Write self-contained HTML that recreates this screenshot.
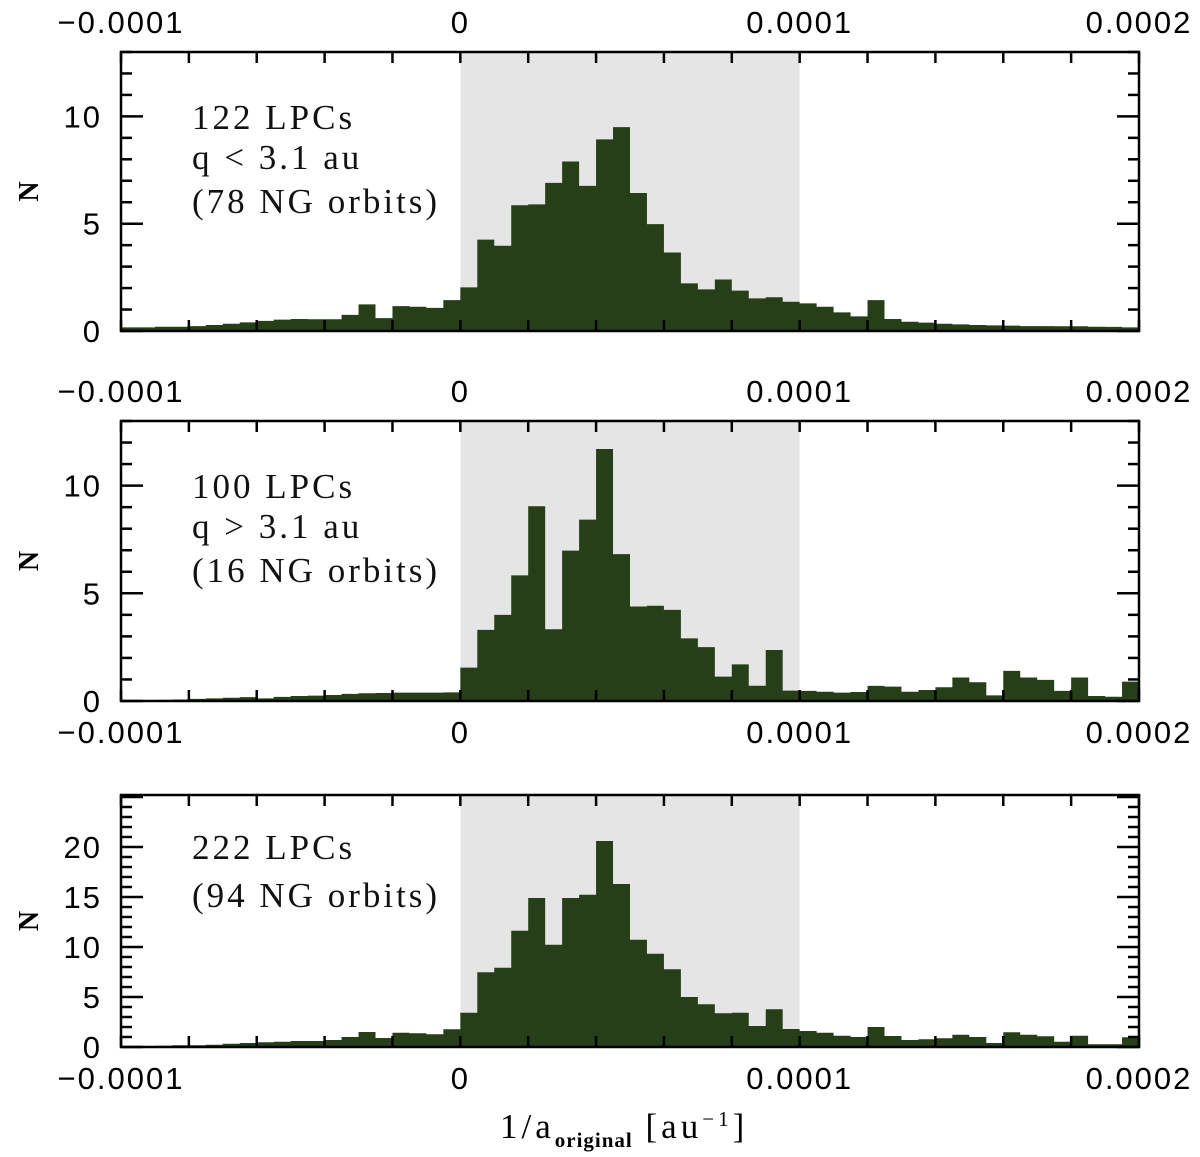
<!DOCTYPE html>
<html><head><meta charset="utf-8"><style>
body{margin:0;background:#fff}
svg{display:block}
.tk{font-family:"Liberation Sans",sans-serif;font-size:31px;fill:#000;letter-spacing:2px}
.ann{font-family:"Liberation Serif",serif;font-size:35px;fill:#111;letter-spacing:3px}
</style></head><body>
<svg id="chart" width="1200" height="1157" viewBox="0 0 1200 1157" xmlns="http://www.w3.org/2000/svg"></svg>
<script>
const xTickValues=[-0.0001,0,0.0001,0.0002];
const xTickLabels=["\u22120.0001","0","0.0001","0.0002"];
const binStart=-0.0001, binWidth=0.000005;
const countsShortQ=[0.17,0.17,0.2,0.2,0.23,0.28,0.34,0.4,0.47,0.53,0.56,0.55,0.55,0.75,1.24,0.6,1.16,1.13,1.08,1.44,
2.03,4.26,3.97,5.86,5.9,6.9,7.9,6.76,8.93,9.5,6.43,4.98,3.66,2.22,1.94,2.4,1.88,1.52,1.57,1.36,
1.29,1.13,0.87,0.68,1.44,0.56,0.43,0.39,0.34,0.31,0.28,0.26,0.25,0.23,0.23,0.22,0.22,0.2,0.19,0.17];
const countsLongQ=[0.02,0.03,0.05,0.07,0.1,0.12,0.15,0.18,0.12,0.19,0.23,0.25,0.28,0.33,0.36,0.37,0.39,0.39,0.39,0.4,
1.55,3.3,4.0,5.83,9.04,3.33,6.98,8.42,11.7,6.82,4.39,4.42,4.23,2.91,2.5,1.13,1.7,0.71,2.37,0.48,
0.47,0.43,0.39,0.42,0.7,0.67,0.43,0.51,0.64,1.09,0.87,0.26,1.4,1.09,0.98,0.47,1.09,0.23,0.2,0.9];
const countsAll=[0.1,0.1,0.13,0.17,0.17,0.23,0.33,0.4,0.47,0.53,0.6,0.6,0.7,1.0,1.5,0.9,1.43,1.37,1.27,1.77,
3.43,7.47,7.93,11.63,14.9,10.23,14.9,15.23,20.6,16.3,10.73,9.33,7.77,5.0,4.27,3.37,3.43,2.1,3.77,1.8,
1.6,1.43,1.13,1.0,2.0,1.1,0.7,0.77,0.87,1.23,1.0,0.4,1.47,1.23,1.07,0.53,1.13,0.27,0.27,0.97];
const yTicks1=[0,5,10], yTicks3=[0,5,10,15,20];
const annot1=["122 LPCs","q < 3.1 au","(78 NG orbits)"];
const annot2=["100 LPCs","q > 3.1 au","(16 NG orbits)"];
const annot3=["222 LPCs","(94 NG orbits)"];

const NS="http://www.w3.org/2000/svg";
const svg=document.getElementById('chart');
function mk(tag,attrs,parent){const e=document.createElementNS(NS,tag);for(const k in attrs)e.setAttribute(k,attrs[k]);(parent||svg).appendChild(e);return e;}
const L=121,R=1139;
function xs(v){return L+(v-(-0.0001))/(0.0003)*(R-L);}

function panel(name,top,bot,ymax,counts,yTicks,minorStep,majorStep,annot,annotY,labelsTop,labelsBottom){
  const ys=v=>bot-v/ymax*(bot-top);
  const g=mk('g',{});
  
  
  const sh=mk('rect',{x:xs(0),y:top,width:xs(0.0001)-xs(0),height:bot-top,fill:'#e5e5e5'},g);
  
  
  let d='M'+xs(binStart)+','+bot;
  counts.forEach((c,i)=>{const x0=xs(binStart+i*binWidth),x1=xs(binStart+(i+1)*binWidth);d+=' L'+x0+','+ys(c)+' L'+x1+','+ys(c);});
  d+=' L'+xs(binStart+counts.length*binWidth)+','+bot+' Z';
  const h=mk('path',{d:d,fill:'#263f18'},g);
  
  
  for(let v=-0.0001;v<=0.00020001;v+=0.00002){
    const x=xs(v);
    mk('line',{x1:x,y1:top,x2:x,y2:top+11,stroke:'#000','stroke-width':2.5},g);
    mk('line',{x1:x,y1:bot,x2:x,y2:bot-11,stroke:'#000','stroke-width':2.5},g);
  }
  for(let v=0;v<=ymax;v+=minorStep){
    const y=ys(v);const major=Math.abs(v/majorStep-Math.round(v/majorStep))<1e-6;
    const len=major?22:11;
    mk('line',{x1:L,y1:y,x2:L+len,y2:y,stroke:'#000','stroke-width':2.5},g);
    mk('line',{x1:R,y1:y,x2:R-len,y2:y,stroke:'#000','stroke-width':2.5},g);
  }
  const fr=mk('rect',{x:L,y:top,width:R-L,height:bot-top,fill:'none',stroke:'#000','stroke-width':2.5},g);
  
  
  yTicks.forEach(v=>{const t=mk('text',{x:102,y:ys(v)+11,'text-anchor':'end',class:'tk'},g);t.textContent=v;
    
    });
  xTickValues.forEach((v,i)=>{
    if(labelsTop){const t=mk('text',{x:xs(v),y:top-19,'text-anchor':'middle',class:'tk'},g);t.textContent=xTickLabels[i];
      
      }
    if(labelsBottom){const t=mk('text',{x:xs(v),y:bot+42,'text-anchor':'middle',class:'tk'},g);t.textContent=xTickLabels[i];
      
      }
  });
  const n=mk('text',{x:0,y:0,transform:'translate(38,'+((top+bot)/2)+') rotate(-90)','text-anchor':'middle',style:'font-family:"Liberation Serif",serif;font-size:28px;font-weight:bold'},g);
  n.textContent='N';
  
  
  annot.forEach((s,i)=>{const t=mk('text',{x:192,y:annotY[i],class:'ann'},g);t.textContent=s;
    
    });
}
panel('panel-q-lt-3-1',52,331,13,countsShortQ,yTicks1,1,5,annot1,[129,169,213],true,false);
panel('panel-q-gt-3-1',421,701,13,countsLongQ,yTicks1,1,5,annot2,[498,538,582],true,true);
panel('panel-all',795,1047,25.2,countsAll,yTicks3,1,5,annot3,[859,907],false,true);
const xt=mk('text',{x:500,y:1138,style:'font-family:"Liberation Serif",serif;font-size:35px;letter-spacing:4px'});


xt.innerHTML='1/a<tspan dy="9" style="font-size:21px;font-weight:bold;letter-spacing:1px">original</tspan><tspan dy="-9"> [au</tspan><tspan dy="-12" style="font-size:21px">−1</tspan><tspan dy="12">]</tspan>';
</script>
</body></html>
